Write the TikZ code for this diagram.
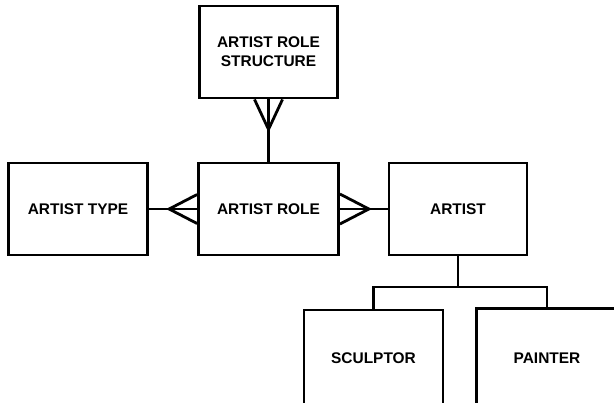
\documentclass[tikz,border=0pt]{standalone}
\usepackage{fontspec}
\setmainfont{Liberation Sans}
\usetikzlibrary{calc}
\begin{document}
\begin{tikzpicture}[x=1bp,y=-1bp,
  entity/.style={draw, line width=2.8bp, inner sep=0pt, align=center,
    font=\fontsize{15.5}{19}\selectfont\bfseries},
  caption/.style={inner sep=0pt, font=\fontsize{15.5}{19}\selectfont\bfseries},
  link/.style={line width=2.8bp}]
  \useasboundingbox (0,0) rectangle (614,402);
  \clip (0,0) rectangle (614,402);
  \fill[white] (0,0) rectangle (614,402);

  % entities
  \node[entity, minimum width=138bp, minimum height=92bp] (ars) at (268.5,52)
    {ARTIST ROLE\\STRUCTURE};
  \node[entity, minimum width=140bp, minimum height=92bp] (role) at (268.5,209)
    {ARTIST ROLE};
  \node[entity, minimum width=139bp, minimum height=92bp] (type) at (78,209)
    {ARTIST TYPE};
  \node[entity, minimum width=138bp, minimum height=92bp] (artist) at (458,209)
    {ARTIST};
  \node[entity, minimum width=139bp, minimum height=96bp] (sculptor) at (373.5,358)
    {SCULPTOR};
  % the painter box runs on past the right and bottom borders:
  % only its left and top sides are drawn
  \node[entity, draw=none, minimum width=180bp, minimum height=96bp] (painter) at (568,358) {};
  \draw[link] (painter.south west) -- (painter.north west) -- (painter.north east);
  \node[caption] (paintertext) at (547,358) {PAINTER};

  % structure -> role (many end at the structure)
  \draw[link] (ars.south) -- (role.north);
  \draw[link] ($(ars.south)+(-14,0)$) -- ($(ars.south)+(0,30)$)
              -- ($(ars.south)+(14,0)$);

  % type -> role (many end at the role)
  \draw[link] (type.east) -- (role.west);
  \draw[link] ($(role.west)+(0,-14.5)$) -- ($(role.west)+(-28,0)$)
              -- ($(role.west)+(0,14.5)$);

  % role -> artist (many end at the role)
  \draw[link] (role.east) -- (artist.west);
  \draw[link] ($(role.east)+(0,-15)$) -- ($(role.east)+(29,0)$)
              -- ($(role.east)+(0,15)$);

  % subtypes of artist
  \coordinate (bar) at (458,287);
  \coordinate (leg) at (547,310);
  \draw[link] (artist.south) -- (bar);
  \draw[link] (sculptor.north) |- (bar) -| (leg);
\end{tikzpicture}
\end{document}
